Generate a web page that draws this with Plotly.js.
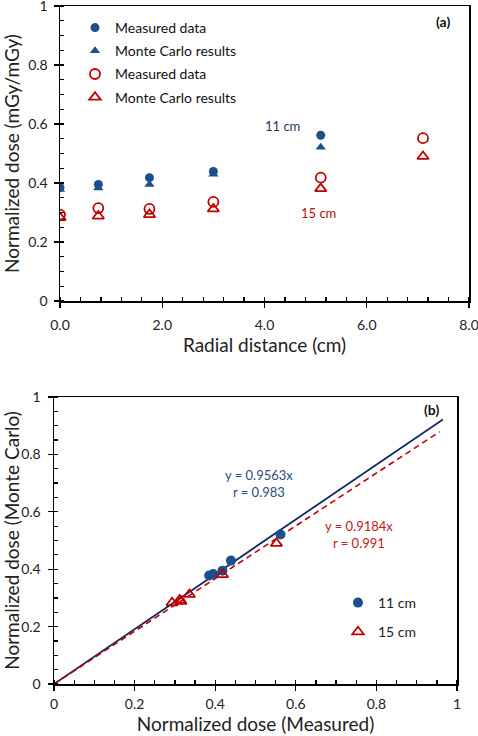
<!DOCTYPE html>
<html>
<head>
<meta charset="utf-8">
<script src="https://cdn.plot.ly/plotly-3.0.1.min.js"></script>
<style>html,body{margin:0;padding:0;background:#fff;}#chart{width:478px;height:736px;}</style>
</head>
<body>
<div id="chart"></div>
<script>
// Panel (a): radial profiles
const radial = [0, 0.75, 1.75, 3.0, 5.1];
const radial15 = [0, 0.75, 1.75, 3.0, 5.1, 7.1];
const meas11 = [0.385, 0.395, 0.418, 0.439, 0.562];
const mc11 = [0.378, 0.383, 0.395, 0.430, 0.521];
const meas15 = [0.293, 0.315, 0.312, 0.336, 0.418, 0.552];
const mc15 = [0.283, 0.288, 0.293, 0.312, 0.381, 0.490];
// Panel (b): fit lines (end points)
const fit11X = [0, 0.965];
const fit11Y = [0, 0.922];
const fit15X = [0, 0.957];
const fit15Y = [0, 0.879];
const legendNames = ['Measured data', 'Monte Carlo results', 'Measured data', 'Monte Carlo results'];
const legendNamesB = ['11 cm', '15 cm'];

const BLUE = '#1F4E8C';
const RED = '#C00000';
const NAVY = '#0F2A66';
const FONT = 'Lato, "Open Sans", sans-serif';

const traces = [
  {x: radial, y: meas11, type: 'scatter', mode: 'markers', name: legendNames[0], legendgroup: 'g1',
   marker: {symbol: 'circle', size: 9, color: BLUE}, xaxis: 'x', yaxis: 'y', legend: 'legend'},
  {x: radial, y: mc11, type: 'scatter', mode: 'markers', name: legendNames[1], legendgroup: 'g2',
   marker: {symbol: 'triangle-up', size: 9, color: BLUE}, xaxis: 'x', yaxis: 'y', legend: 'legend'},
  {x: radial15, y: meas15, type: 'scatter', mode: 'markers', name: legendNames[2], legendgroup: 'g3',
   marker: {symbol: 'circle-open', size: 10, color: RED, line: {width: 1.8, color: RED}}, xaxis: 'x', yaxis: 'y', legend: 'legend'},
  {x: radial15, y: mc15, type: 'scatter', mode: 'markers', name: legendNames[3], legendgroup: 'g4',
   marker: {symbol: 'triangle-up-open', size: 10, color: RED, line: {width: 1.8, color: RED}}, xaxis: 'x', yaxis: 'y', legend: 'legend'},

  {x: fit11X, y: fit11Y, type: 'scatter', mode: 'lines', showlegend: false,
   line: {color: NAVY, width: 1.8}, xaxis: 'x2', yaxis: 'y2'},
  {x: fit15X, y: fit15Y, type: 'scatter', mode: 'lines', showlegend: false,
   line: {color: RED, width: 1.6, dash: '6px,4px'}, xaxis: 'x2', yaxis: 'y2'},
  {x: meas11, y: mc11, type: 'scatter', mode: 'markers', name: legendNamesB[0], legendgroup: 'b1',
   marker: {symbol: 'circle', size: 10, color: BLUE}, xaxis: 'x2', yaxis: 'y2', legend: 'legend2'},
  {x: meas15, y: mc15, type: 'scatter', mode: 'markers', name: legendNamesB[1], legendgroup: 'b2',
   marker: {symbol: 'triangle-up-open', size: 10, color: RED, line: {width: 1.8, color: RED}}, xaxis: 'x2', yaxis: 'y2', legend: 'legend2'}
];

const axisCommon = {
  showline: true, linecolor: '#000', linewidth: 1.5, mirror: true,
  showgrid: false, zeroline: false,
  ticks: 'outside', ticklen: 5, tickwidth: 1.3, tickcolor: '#000',
  tickfont: {family: FONT, size: 14, color: '#222'},
  ticklabeloverflow: 'allow',
  automargin: false
};
const minorY = {dtick: 0.05, ticks: 'inside', ticklen: 4, tickwidth: 1.3, tickcolor: '#000'};
const titleFont = {family: FONT, size: 19, color: '#222'};

const layout = {
  width: 478, height: 736,
  margin: {l: 0, r: 0, t: 0, b: 0},
  paper_bgcolor: '#fff', plot_bgcolor: '#fff',
  font: {family: FONT, color: '#222'},
  xaxis: Object.assign({}, axisCommon, {
    domain: [60/478, 469/478], range: [0, 8], dtick: 2, tick0: 0, tickformat: '.1f',
    ticklabelstandoff: 6,
    minor: {dtick: 0.4, ticks: 'inside', ticklen: 4, tickwidth: 1.3, tickcolor: '#000'},
    title: {text: 'Radial distance (cm)', font: titleFont, standoff: 2},
    anchor: 'y'
  }),
  yaxis: Object.assign({}, axisCommon, {
    domain: [1 - 301/736, 1 - 6/736], range: [0, 1], dtick: 0.2,
    ticklabelstandoff: 3,
    minor: minorY,
    title: {text: 'Normalized dose (mGy/mGy)', font: titleFont, standoff: 11},
    anchor: 'x'
  }),
  xaxis2: Object.assign({}, axisCommon, {
    domain: [54/478, 457/478], range: [0, 1], dtick: 0.2,
    ticklabelstandoff: 2,
    minor: {dtick: 0.05, ticks: 'inside', ticklen: 4, tickwidth: 1.3, tickcolor: '#000'},
    title: {text: 'Normalized dose (Measured)', font: titleFont, standoff: 2},
    anchor: 'y2'
  }),
  yaxis2: Object.assign({}, axisCommon, {
    domain: [1 - 684/736, 1 - 397/736], range: [0, 1], dtick: 0.2,
    ticklabelstandoff: 4,
    minor: minorY,
    title: {text: 'Normalized dose (Monte Carlo)', font: titleFont, standoff: 9},
    anchor: 'x2'
  }),
  legend: {
    x: 75/478, y: 1 - 12/736, xanchor: 'left', yanchor: 'top',
    bgcolor: 'rgba(0,0,0,0)', borderwidth: 0,
    font: {family: FONT, size: 14, color: '#111'},
    tracegroupgap: 2
  },
  legend2: {
    x: 338/478, y: 1 - 587/736, xanchor: 'left', yanchor: 'top',
    bgcolor: 'rgba(0,0,0,0)', borderwidth: 0,
    font: {family: FONT, size: 14, color: '#222'},
    tracegroupgap: 8
  },
  annotations: [
    {text: '<b>(a)</b>', xref: 'paper', yref: 'paper', x: 443/478, y: 1 - 22/736,
     xanchor: 'center', yanchor: 'middle', showarrow: false,
     font: {family: FONT, size: 14, color: '#111'}},
    {text: '11 cm', xref: 'x', yref: 'y', x: 4.35, y: 0.593, showarrow: false,
     font: {family: FONT, size: 13, color: '#1F3864'}},
    {text: '15 cm', xref: 'x', yref: 'y', x: 5.05, y: 0.298, showarrow: false,
     font: {family: FONT, size: 13, color: '#B01010'}},
    {text: '<b>(b)</b>', xref: 'paper', yref: 'paper', x: 431/478, y: 1 - 409/736,
     xanchor: 'center', yanchor: 'middle', showarrow: false,
     font: {family: FONT, size: 14, color: '#111'}},
    {text: 'y = 0.9563x<br>r = 0.983', xref: 'x2', yref: 'y2', x: 0.508, y: 0.70, showarrow: false,
     font: {family: FONT, size: 13, color: '#2B4A80'}, align: 'center'},
    {text: 'y = 0.9184x<br>r = 0.991', xref: 'x2', yref: 'y2', x: 0.757, y: 0.52, showarrow: false,
     font: {family: FONT, size: 13, color: '#C02020'}, align: 'center'}
  ]
};

Plotly.newPlot('chart', traces, layout, {displayModeBar: false, staticPlot: true});
</script>
</body>
</html>
